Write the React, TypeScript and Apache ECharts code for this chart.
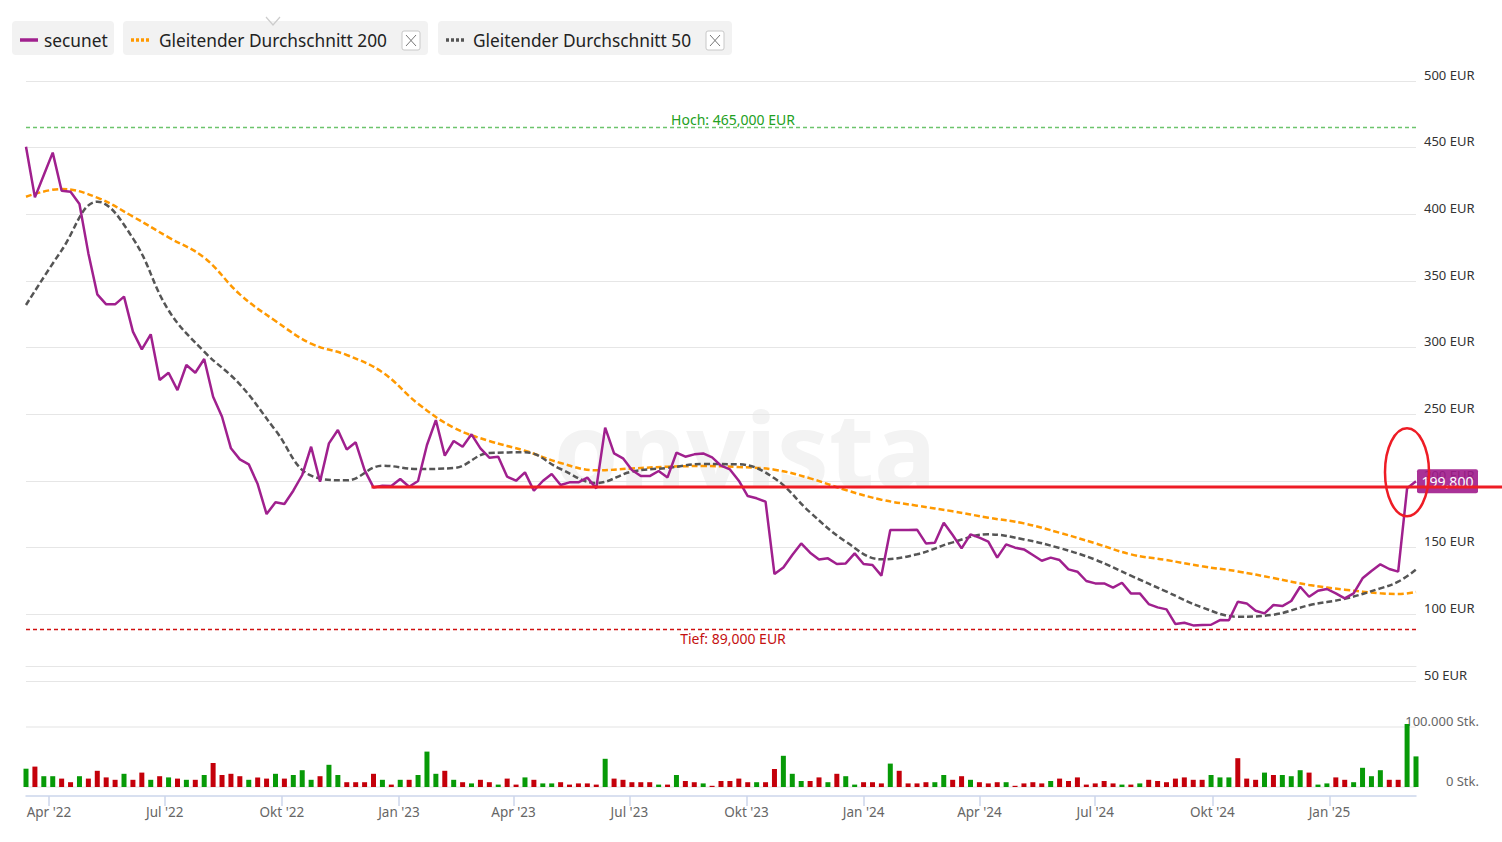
import React, { useEffect, useRef } from "react";
import * as echarts from "echarts";

// ---------- DATA ----------
const START_DATE = Date.UTC(2022, 2, 14); // first weekly point
const WEEK_MS = 7 * 86400000;

const PRICE = [
  450.7, 412.7, 429.5, 446.3, 417.7, 417, 407.7, 370.7, 340, 332.5,
  332.5, 338.3, 312, 298.7, 310, 275.7, 281.2, 268.2, 287, 281.2,
  291.5, 263.2, 248.2, 224.5, 216.2, 212.5, 197.7, 175.2, 184, 182.7,
  192.7, 204.5, 225.7, 199.5, 228.2, 238.2, 223.7, 229, 208.2, 195.2,
  196.5, 196.2, 201.5, 195.7, 200, 227, 245.7, 219, 230, 225.7,
  235, 224.5, 217.5, 218.2, 203.2, 200.2, 206.5, 192.7, 200, 205.2,
  197, 199, 199, 202.5, 194.5, 240, 220.7, 217, 208.2, 203.7,
  203.7, 207.5, 202.7, 221.2, 218.2, 220, 220.7, 217.7, 211.5, 208.7,
  200.2, 188.7, 187, 184.5, 130.2, 135.2, 144.5, 153.2, 146.2, 141.2,
  142, 137.7, 138.2, 145.7, 137.7, 137, 129, 163.2, 163.2, 163.2,
  163.5, 153.2, 153.7, 168.7, 159.5, 149.5, 160, 157.5, 154.5, 142.5,
  152.5, 150, 148.7, 144.5, 140.2, 142.5, 140.7, 133.7, 132, 125,
  123.2, 123.2, 120, 123.7, 115.7, 115.7, 107.7, 105.2, 103.7, 92.7,
  93.7, 91.7, 92, 92.2, 95.7, 95.5, 109.5, 108.2, 102.7, 100.7,
  107, 106.2, 110, 120.7, 113.2, 117.7, 119, 115.7, 112, 115.7,
  127, 132.5, 137.5, 134, 132, 194.5, 199.8,
];

const VOLUME = [
  30500, 34000, 18000, 18000, 14000, 8000, 18000, 14000, 27000, 16000,
  12000, 22000, 12000, 24000, 12000, 18000, 16000, 14000, 12000, 12000,
  20000, 40000, 20000, 22000, 18000, 12000, 16000, 14000, 22000, 14000,
  20000, 28000, 12000, 18000, 37000, 20000, 8000, 8000, 8000, 22000,
  12000, 4000, 12000, 12000, 20000, 59000, 22000, 27000, 12000, 8000,
  6000, 12000, 8000, 4000, 14000, 4000, 16000, 12000, 6000, 6000,
  8000, 4000, 6000, 6000, 4000, 47000, 14000, 12000, 8000, 8000,
  8000, 4000, 4000, 20000, 10000, 8000, 6000, 2000, 10000, 10000,
  14000, 8000, 8000, 8000, 30000, 52000, 22000, 10000, 10000, 16000,
  8000, 22000, 18000, 4000, 8000, 8000, 6000, 39000, 27000, 6000,
  6000, 8000, 8000, 20000, 12000, 18000, 12000, 8000, 6000, 8000,
  8000, 2000, 6000, 8000, 6000, 10000, 14000, 10000, 16000, 4000,
  6000, 10000, 6000, 4000, 4000, 6000, 12000, 10000, 8000, 14000,
  16000, 12000, 12000, 20000, 16000, 16000, 48000, 14000, 12000, 24000,
  20000, 20000, 18000, 28000, 24000, 4000, 6000, 16000, 12000, 8000,
  32000, 18000, 28000, 12000, 12000, 105000, 51000,
];

// g = up week (green), r = down week (red)
const VOLUME_DIR = (
  "grggrrgrrr" + "rgrrgrgrgr" + "grrrrgrrgr" + "gggrggrrrr" + "grgrgggrgr" +
  "grrgrrgrgg" + "rrrrrgrrrr" + "rgrgrrgrrr" + "rrgrrgggrr" + "grggrrrgrr" +
  "rrggrrgrrr" + "grrrrgrrrr" + "rrrgrgrrrr" + "rrrgggrrrg" + "rgggrggrrg" +
  "gggrrgg"
).split("");

const MA_WEEKS = [
  0, 4, 8, 12, 16, 20, 24, 28, 32, 36, 40, 44, 48, 52, 56, 60, 64, 68, 72, 76,
  80, 84, 88, 92, 96, 100, 104, 108, 112, 116, 120, 124, 128, 132, 136, 140,
  144, 148, 152, 154, 156,
];
const MA200 = [
  413.2, 419, 412.5, 398.3, 382.7, 367.5, 340, 320, 303, 294.5,
  281.5, 258, 240, 230, 222.7, 213.5, 208, 209.4, 210.7, 211.2,
  210.5, 208.5, 202, 193.2, 186, 181.5, 177.3, 172.5, 168.2, 161.2,
  153.3, 145, 140.7, 136, 132.2, 127.2, 122, 118.5, 115.8, 115.2, 116.8,
];
const MA50 = [
  332, 373, 409.5, 382, 328, 297, 272.5, 238, 204, 200.5,
  211.5, 209, 209.7, 221, 221.5, 209, 198.5, 207, 209.8, 212.7,
  212.5, 202, 176.5, 154.5, 141.3, 145, 154, 160, 156.2, 149.7,
  141, 129, 117, 105.2, 98.2, 99.7, 106.8, 111.7, 119.5, 124.5, 133.5,
];

const QUARTER_TICKS = [
  [2022, 3], [2022, 6], [2022, 9], [2023, 0], [2023, 3], [2023, 6], [2023, 9],
  [2024, 0], [2024, 3], [2024, 6], [2024, 9], [2025, 0],
];
const MONTHS_DE = ["Jan", "Feb", "Mär", "Apr", "Mai", "Jun", "Jul", "Aug", "Sep", "Okt", "Nov", "Dez"];

const HIGH = 465;
const LOW = 89;
const ANNOTATION_LEVEL = 195.5;
const ANNOTATION_START_WEEK = 39;
const LAST_LABEL = "199,800";

// ---------- COLOURS ----------
const C_PRICE = "#a0208e";
const C_MA200 = "#ff9900";
const C_MA50 = "#555555";
const C_UP = "#079a07";
const C_DOWN = "#c4000a";
const FONT = '"Noto Sans", Lato, sans-serif';

const weekTs = (i: number) => START_DATE + i * WEEK_MS;

function legendBox(x: number, w: number, textDx: number, label: string, color: string, dotted: boolean, closable: boolean) {
  const children: any[] = [
    { type: "rect", shape: { x, y: 21, width: w, height: 34, r: 4 }, style: { fill: "#f2f2f2" } },
    {
      type: "line",
      shape: { x1: x + 8, y1: 40, x2: x + 26, y2: 40 },
      style: { stroke: color, lineWidth: 3.5, lineDash: dotted ? [3, 2] : null },
    },
    {
      type: "text",
      x: x + textDx,
      y: 40,
      style: { text: label, fill: "#222", font: `17.3px ${FONT}`, verticalAlign: "middle" },
    },
  ];
  if (closable) {
    const bx = x + w - 26;
    children.push(
      { type: "rect", shape: { x: bx, y: 31, width: 18, height: 19, r: 2 }, style: { fill: "#fff", stroke: "#c8c8c8", lineWidth: 1 } },
      { type: "line", shape: { x1: bx + 4, y1: 35, x2: bx + 14, y2: 46 }, style: { stroke: "#777", lineWidth: 1 } },
      { type: "line", shape: { x1: bx + 14, y1: 35, x2: bx + 4, y2: 46 }, style: { stroke: "#777", lineWidth: 1 } }
    );
  }
  return { type: "group", children };
}

export default function App() {
  const ref = useRef<HTMLDivElement>(null);

  useEffect(() => {
    if (!ref.current) return;
    const chart = echarts.init(ref.current, null, { renderer: "svg" });

    const tickValues = QUARTER_TICKS.map(([y, m]) => Date.UTC(y, m, 1));
    const fmtDate = (v: number) => {
      const d = new Date(v);
      return MONTHS_DE[d.getUTCMonth()] + " '" + String(d.getUTCFullYear()).slice(2);
    };
    const xMin = weekTs(0);
    const xMax = weekTs(PRICE.length - 1);

    const priceData = PRICE.map((v, i) => [weekTs(i), v]);
    const ma200Data = MA_WEEKS.map((w, i) => [weekTs(w), MA200[i]]);
    const ma50Data = MA_WEEKS.map((w, i) => [weekTs(w), MA50[i]]);
    const volData = VOLUME.map((v, i) => ({
      value: [weekTs(i), v],
      itemStyle: { color: VOLUME_DIR[i] === "g" ? C_UP : C_DOWN },
    }));

    chart.setOption({
      animation: false,
      textStyle: { fontFamily: FONT },
      grid: [
        { left: 26, right: 86, top: 81, height: 600 },
        { left: 26, right: 86, top: 727, height: 60 },
      ],
      xAxis: [
        {
          type: "value",
          gridIndex: 0,
          min: xMin,
          max: xMax,
          offset: -15,
          axisLine: { show: true, onZero: false, lineStyle: { color: "#e6e6e6", width: 1 } },
          axisTick: { show: false },
          axisLabel: { show: false },
          splitLine: { show: false },
        },
        {
          type: "value",
          gridIndex: 1,
          min: xMin,
          max: xMax,
          offset: 9,
          axisLine: { show: true, onZero: false, lineStyle: { color: "#ccd6eb", width: 1.5 } },
          axisTick: { show: true, length: 10, customValues: tickValues, lineStyle: { color: "#ccd6eb", width: 1.5 } },
          axisLabel: {
            show: true,
            customValues: tickValues,
            formatter: (v: number) => fmtDate(v),
            color: "#666",
            fontSize: 13.5,
            margin: 9,
            fontFamily: FONT,
          },
          splitLine: { show: false },
        },
      ],
      yAxis: [
        {
          type: "value",
          gridIndex: 0,
          position: "right",
          min: 50,
          max: 500,
          interval: 50,
          axisLine: { show: false },
          axisTick: { show: false },
          axisLabel: {
            formatter: (v: number) => `${v} EUR`,
            color: "#333",
            fontSize: 13,
            margin: 8,
            verticalAlign: "bottom",
            fontFamily: FONT,
          },
          splitLine: { lineStyle: { color: "#e6e6e6", width: 1 } },
        },
        {
          type: "value",
          gridIndex: 1,
          position: "right",
          min: 0,
          max: 100000,
          interval: 100000,
          axisLine: { show: false },
          axisTick: { show: false },
          axisLabel: {
            formatter: (v: number) => (v === 0 ? "0 Stk." : "100.000 Stk."),
            color: "#666",
            fontSize: 13,
            margin: 63,
            align: "right",
            verticalAlign: "bottom",
            fontFamily: FONT,
          },
          splitLine: { lineStyle: { color: "#ececec", width: 1.5 } },
        },
      ],
      series: [
        {
          name: "Gleitender Durchschnitt 200",
          type: "line",
          xAxisIndex: 0,
          yAxisIndex: 0,
          data: ma200Data,
          smooth: 0.4,
          symbol: "none",
          lineStyle: { color: C_MA200, width: 2.5, type: [6, 3] },
          z: 2,
        },
        {
          name: "Gleitender Durchschnitt 50",
          type: "line",
          xAxisIndex: 0,
          yAxisIndex: 0,
          data: ma50Data,
          smooth: 0.4,
          symbol: "none",
          lineStyle: { color: C_MA50, width: 2.5, type: [6, 3] },
          z: 2,
        },
        {
          name: "secunet",
          type: "line",
          xAxisIndex: 0,
          yAxisIndex: 0,
          data: priceData,
          symbol: "none",
          lineStyle: { color: C_PRICE, width: 2.5 },
          z: 3,
          markLine: {
            silent: true,
            symbol: "none",
            animation: false,
            data: [
              {
                yAxis: HIGH,
                lineStyle: { color: "#6cc46c", type: [4, 3], width: 1.3 },
                label: {
                  show: true,
                  position: "insideMiddleTop",
                  formatter: "Hoch: 465,000 EUR",
                  color: "#22a022",
                  fontSize: 14,
                  fontFamily: FONT,
                  distance: 1,
                  padding: [0, 0, 0, 24],
                },
              },
              {
                yAxis: LOW,
                lineStyle: { color: "#d01010", type: [4, 3], width: 1.3 },
                label: {
                  show: true,
                  position: "insideMiddleBottom",
                  formatter: "Tief: 89,000 EUR",
                  color: "#c41010",
                  fontSize: 14,
                  fontFamily: FONT,
                  distance: 2,
                  padding: [0, 0, 0, 24],
                },
              },
            ],
          },
        },
        {
          name: "Volumen",
          type: "bar",
          xAxisIndex: 1,
          yAxisIndex: 1,
          data: volData,
          barWidth: 5,
          clip: false,
        },
      ],
    });

    // annotations derived from data via the axes
    const [ax, ay] = chart.convertToPixel({ gridIndex: 0 }, [weekTs(ANNOTATION_START_WEEK), ANNOTATION_LEVEL]) as number[];
    const [lx, ly] = chart.convertToPixel({ gridIndex: 0 }, [xMax, PRICE[PRICE.length - 1]]) as number[];
    const W = chart.getWidth();

    chart.setOption({
      graphic: [
        {
          type: "text",
          x: 745,
          y: 447,
          z: -10,
          silent: true,
          style: {
            text: "onvista",
            fill: "#f3f3f3",
            font: `bold 104px ${FONT}`,
            align: "center",
            verticalAlign: "middle",
          },
        },
        legendBox(12, 102, 32, "secunet", C_PRICE, false, false),
        legendBox(123, 305, 36, "Gleitender Durchschnitt 200", C_MA200, true, true),
        legendBox(438, 294, 35, "Gleitender Durchschnitt 50", C_MA50, true, true),
        {
          type: "polyline",
          shape: { points: [[266, 17], [273, 25], [280, 17]] },
          style: { stroke: "#cccccc", lineWidth: 1.2, fill: "none" },
        },
        {
          type: "rect",
          z: 50,
          shape: { x: lx + 1, y: ly - 12, width: 61, height: 24, r: 2 },
          style: { fill: "rgba(160,28,140,0.9)" },
        },
        {
          type: "text",
          z: 51,
          x: lx + 31.5,
          y: ly,
          style: {
            text: LAST_LABEL,
            fill: "#ffffff",
            font: `14px ${FONT}`,
            align: "center",
            verticalAlign: "middle",
          },
        },
        {
          type: "line",
          z: 60,
          shape: { x1: ax - 2, y1: ay, x2: W, y2: ay },
          style: { stroke: "#ee1c25", lineWidth: 3 },
        },
        {
          type: "ellipse",
          z: 61,
          shape: { cx: lx - 9, cy: ly - 9, rx: 22, ry: 44 },
          style: { fill: "none", stroke: "#ee1c25", lineWidth: 2.5 },
        },
      ],
    });

    return () => chart.dispose();
  }, []);

  return (
    <div
      ref={ref}
      style={{ position: "absolute", left: 0, top: 0, width: 1502, height: 842, background: "#fff" }}
    />
  );
}
